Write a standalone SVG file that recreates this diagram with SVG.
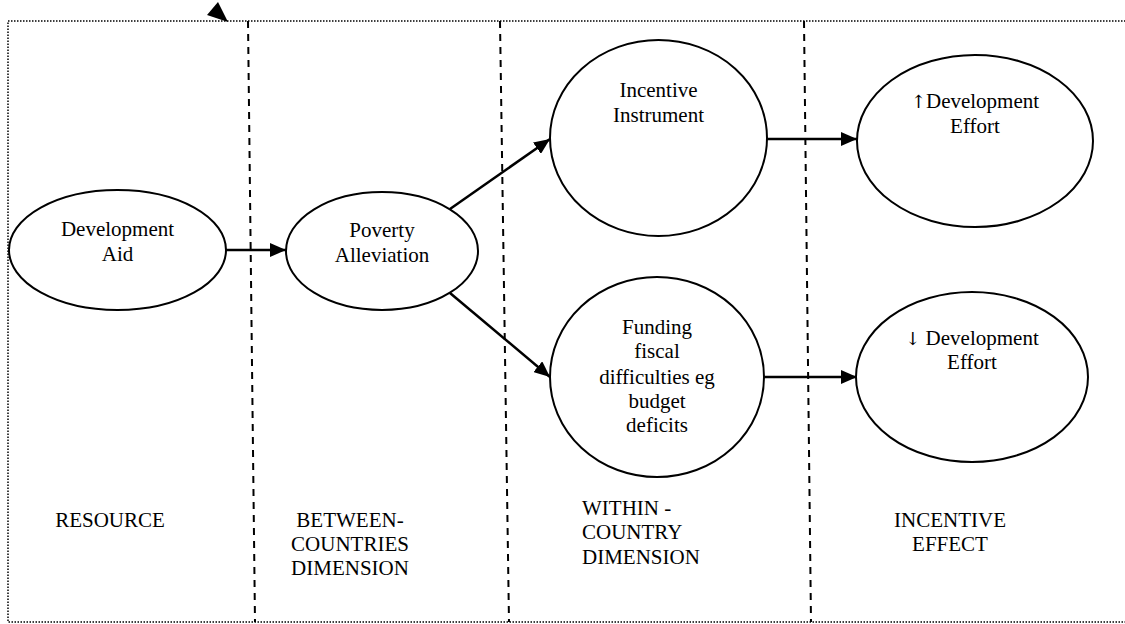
<svg xmlns="http://www.w3.org/2000/svg" width="1125" height="624" viewBox="0 0 1125 624" font-family="'Liberation Serif', 'Times New Roman', 'DejaVu Serif', serif">
<defs>
<marker id="ah" markerUnits="userSpaceOnUse" markerWidth="18" markerHeight="14" refX="16" refY="7" orient="auto">
<path d="M0,0 L16,7 L0,14 Z" fill="#000"/>
</marker>
<style>
.node ellipse{fill:#fff;stroke:#000;stroke-width:2}
text{font-size:21px;fill:#000}
.c{text-anchor:middle}
.ar{font-family:'DejaVu Serif','DejaVu Sans',sans-serif;font-size:18px;fill:#000}
.conn line{stroke:#000;stroke-width:2.5;marker-end:url(#ah)}
.div{stroke:#000;stroke-width:2;stroke-dasharray:7,6;fill:none}
.frame{fill:none;stroke:#000;stroke-width:1.5;stroke-dasharray:1.5,1.5}
</style>
</defs>
<rect width="1125" height="624" fill="#fff"/>
<rect class="frame" x="8" y="21" width="1130" height="601"/>
<polygon points="207,15 218,2 228,22" fill="#000"/>
<g id="dividers">
<line class="div" x1="248" y1="21" x2="255" y2="622"/>
<line class="div" x1="500" y1="21" x2="509" y2="622"/>
<line class="div" x1="804" y1="21" x2="811" y2="622"/>
</g>
<g class="conn" id="connectors">
<line x1="226" y1="250" x2="286" y2="250"/>
<line x1="450" y1="209" x2="550" y2="139"/>
<line x1="450" y1="293" x2="550" y2="377"/>
<line x1="767" y1="139" x2="857" y2="139"/>
<line x1="764" y1="377" x2="857" y2="377"/>
</g>
<g class="node" id="development-aid">
<ellipse cx="117.5" cy="250" rx="108.5" ry="60"/>
<text class="c" x="117.5" y="236">Development</text>
<text class="c" x="117.5" y="261">Aid</text>
</g>
<g class="node" id="poverty-alleviation">
<ellipse cx="382" cy="251" rx="96" ry="59"/>
<text class="c" x="382" y="237">Poverty</text>
<text class="c" x="382" y="262">Alleviation</text>
</g>
<g class="node" id="incentive-instrument">
<ellipse cx="658.5" cy="138" rx="108.5" ry="98"/>
<text class="c" x="658.5" y="97">Incentive</text>
<text class="c" x="658.5" y="122">Instrument</text>
</g>
<g class="node" id="funding-fiscal">
<ellipse cx="657" cy="377" rx="107" ry="100"/>
<text class="c" x="657" y="334">Funding</text>
<text class="c" x="657" y="358">fiscal</text>
<text class="c" x="657" y="384">difficulties eg</text>
<text class="c" x="657" y="408">budget</text>
<text class="c" x="657" y="432">deficits</text>
</g>
<g class="node" id="up-effort">
<ellipse cx="975" cy="141" rx="118" ry="86"/>
<text class="c" x="975" y="108"><tspan class="ar">↑</tspan>Development</text>
<text class="c" x="975" y="133">Effort</text>
</g>
<g class="node" id="down-effort">
<ellipse cx="972" cy="377" rx="116" ry="85"/>
<text class="c" x="972" y="345"><tspan class="ar">↓</tspan> Development</text>
<text class="c" x="972" y="369">Effort</text>
</g>
<g id="column-labels">
<text class="c" x="110" y="527">RESOURCE</text>
<text class="c" x="350" y="527">BETWEEN-</text>
<text class="c" x="350" y="551">COUNTRIES</text>
<text class="c" x="350" y="575">DIMENSION</text>
<text x="582" y="515">WITHIN -</text>
<text x="582" y="539">COUNTRY</text>
<text x="582" y="564">DIMENSION</text>
<text class="c" x="950" y="527">INCENTIVE</text>
<text class="c" x="950" y="551">EFFECT</text>
</g>
</svg>
